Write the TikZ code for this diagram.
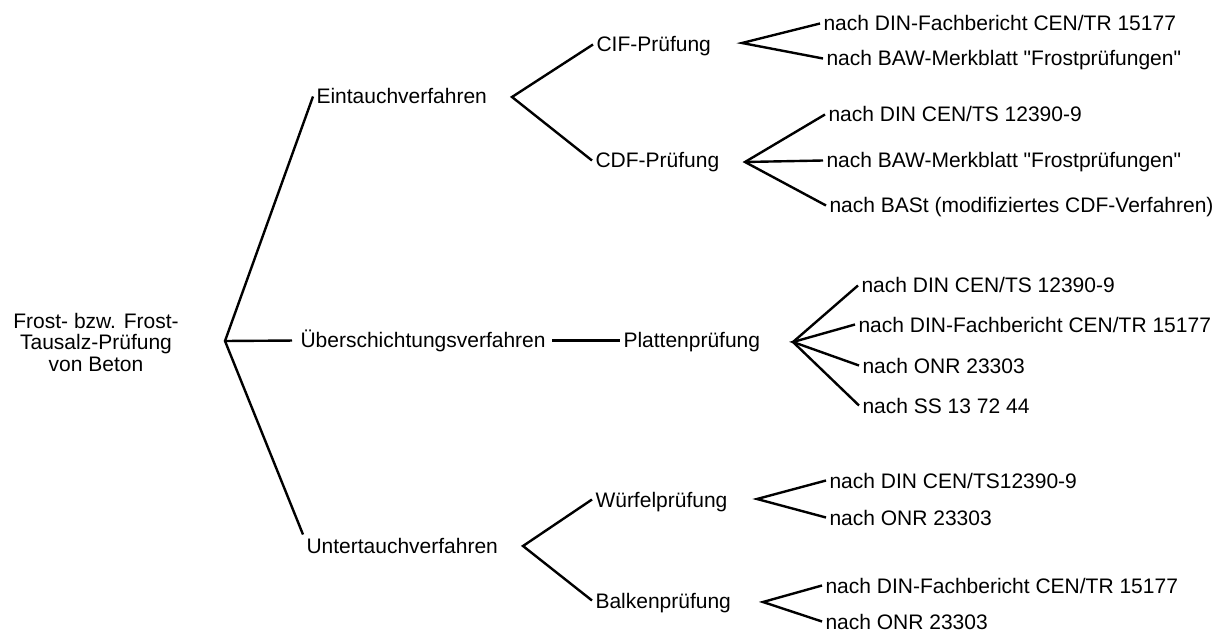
\documentclass[tikz,border=0pt]{standalone}
\usepackage{fontspec}
% plain family without TeX ligature mapping, so " stays a straight quote
\newfontfamily\labelfont{Liberation Sans}
\begin{document}
\begin{tikzpicture}[x=1pt,y=-1pt,
  txt/.style={font=\labelfont\fontsize{21}{21.5}\selectfont},
  lbl/.style={txt, anchor=base west, inner sep=0pt, outer sep=3.5pt,
              text height=15pt, text depth=0pt},
  rootbox/.style={txt, align=center, inner sep=0pt},
  link/.style={line width=2.4pt, line join=miter}]
\useasboundingbox (0,0) rectangle (1227,631);

% root
\node[rootbox] (root) at (96,342) {Frost- bzw. Frost-\\Tausalz-Prüfung\\von Beton};
\coordinate (j0) at (225,341);

% first level
\node[lbl] (ein) at (313,104) {Eintauchverfahren};
\node[lbl] (ueb) at (297,348) {Überschichtungsverfahren};
\node[lbl] (unt) at (303,553) {Untertauchverfahren};

% second level
\node[lbl] (cif) at (593,52) {CIF-Prüfung};
\node[lbl] (cdf) at (592,168) {CDF-Prüfung};
\node[lbl] (pla) at (620,348) {Plattenprüfung};
\node[lbl] (wue) at (592,507) {Würfelprüfung};
\node[lbl] (bal) at (592,608) {Balkenprüfung};

% junctions
\coordinate (jE) at (512,97);
\coordinate (jU) at (523,546);
\coordinate (jUe) at (552,340.5);
\coordinate (jCIF) at (742,43);
\coordinate (jCDF) at (745,162);
\coordinate (jP) at (793,342);
\coordinate (jW) at (757,499);
\coordinate (jB) at (763,602);

% leaves
\node[lbl] (cif1) at (820,31) {nach DIN-Fachbericht CEN/TR 15177};
\node[lbl] (cif2) at (823,66) {nach BAW-Merkblatt "Frostprüfungen"};
\node[lbl] (cdf1) at (825,122) {nach DIN CEN/TS 12390-9};
\node[lbl] (cdf2) at (823,168) {nach BAW-Merkblatt "Frostprüfungen"};
\node[lbl] (cdf3) at (826,213) {nach BASt (modifiziertes CDF-Verfahren)};
\node[lbl] (pla1) at (858,293) {nach DIN CEN/TS 12390-9};
\node[lbl] (pla2) at (855,332) {nach DIN-Fachbericht CEN/TR 15177};
\node[lbl] (pla3) at (859,373) {nach ONR 23303};
\node[lbl] (pla4) at (859,413) {nach SS 13 72 44};
\node[lbl] (wue1) at (826,488) {nach DIN CEN/TS12390-9};
\node[lbl] (wue2) at (826,525) {nach ONR 23303};
\node[lbl] (bal1) at (822,593) {nach DIN-Fachbericht CEN/TR 15177};
\node[lbl] (bal2) at (822,629) {nach ONR 23303};

% connectors
\draw[link] (ein.west) -- (j0) -- (unt.north west);
\draw[link, shorten >=5pt] (j0) -- (ueb.west);
\draw[link] (cif.west) -- (jE) -- (cdf.west);
\draw[link] (jUe) -- (pla.west);
\draw[link] (wue.west) -- (jU) -- (bal.west);
\draw[link] (cif1.west) -- (jCIF) -- (cif2.west);
\draw[link] (cdf1.west) -- (jCDF) -- (cdf3.west);
\draw[link] (jCDF) -- (cdf2.west);
\draw[link] (pla1.west) -- (jP) -- (pla4.west);
\draw[link] (pla2.west) -- (jP) -- (pla3.west);
\draw[link] (wue1.west) -- (jW) -- (wue2.west);
\draw[link] (bal1.west) -- (jB) -- (bal2.west);
\end{tikzpicture}
\end{document}
